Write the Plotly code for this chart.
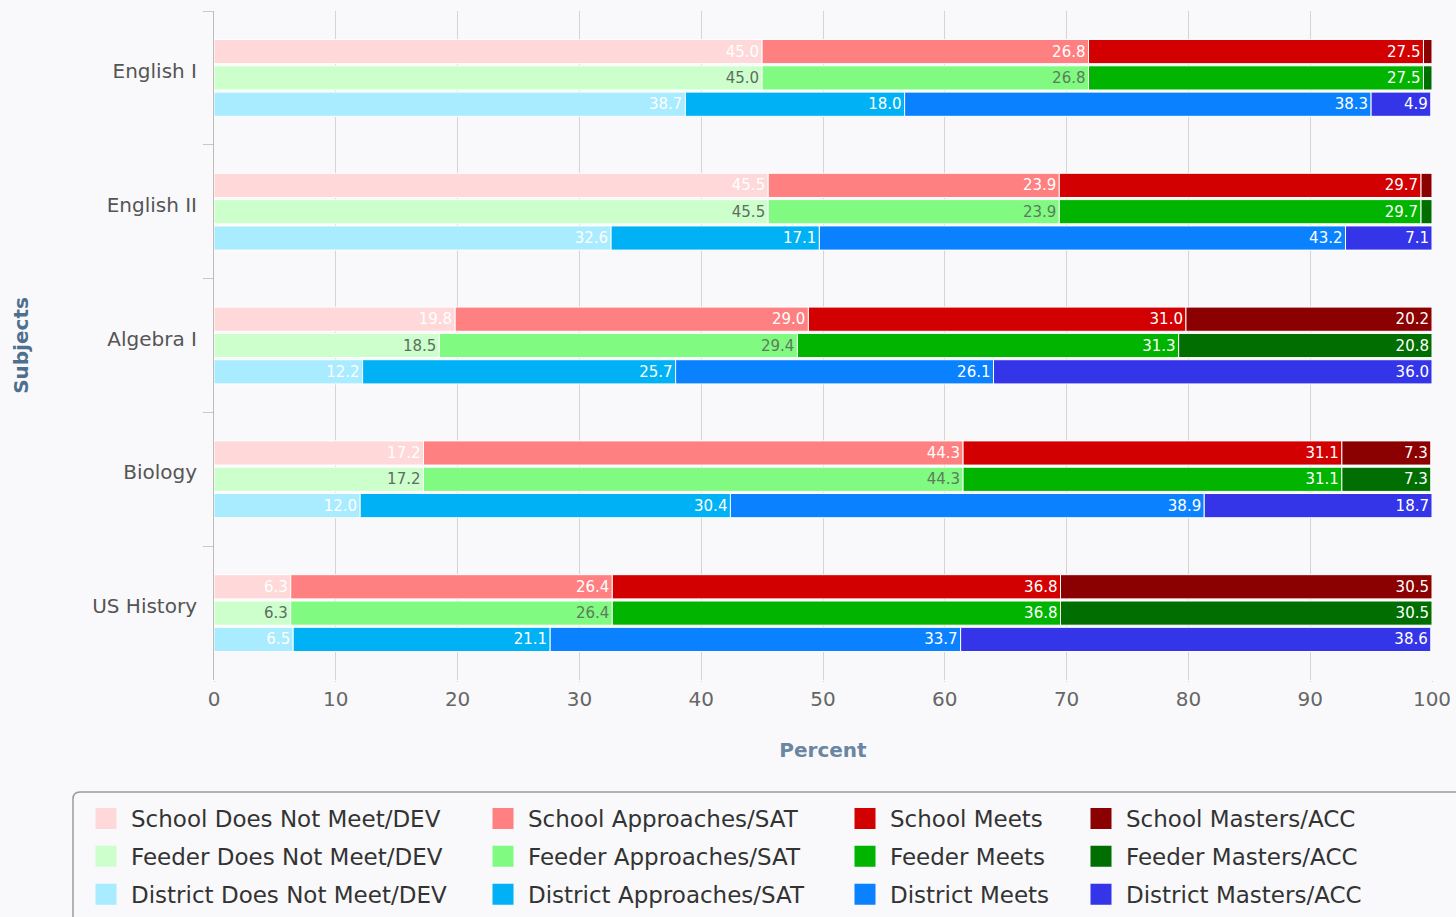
import plotly.graph_objects as go

# Subjects and STAAR performance-level percentages
subjects = ["English I", "English II", "Algebra I", "Biology", "US History"]
levels = ["Does Not Meet/DEV", "Approaches/SAT", "Meets", "Masters/ACC"]
entities = ["School", "Feeder", "District"]

school_not_meet = [45.0, 45.5, 19.8, 17.2, 6.3]
school_approaches = [26.8, 23.9, 29.0, 44.3, 26.4]
school_meets = [27.5, 29.7, 31.0, 31.1, 36.8]
school_masters = [0.7, 0.9, 20.2, 7.3, 30.5]

feeder_not_meet = [45.0, 45.5, 18.5, 17.2, 6.3]
feeder_approaches = [26.8, 23.9, 29.4, 44.3, 26.4]
feeder_meets = [27.5, 29.7, 31.3, 31.1, 36.8]
feeder_masters = [0.7, 0.9, 20.8, 7.3, 30.5]

district_not_meet = [38.7, 32.6, 12.2, 12.0, 6.5]
district_approaches = [18.0, 17.1, 25.7, 30.4, 21.1]
district_meets = [38.3, 43.2, 26.1, 38.9, 33.7]
district_masters = [4.9, 7.1, 36.0, 18.7, 38.6]

series = {
    "School": [school_not_meet, school_approaches, school_meets, school_masters],
    "Feeder": [feeder_not_meet, feeder_approaches, feeder_meets, feeder_masters],
    "District": [district_not_meet, district_approaches, district_meets, district_masters],
}

colors = {
    "School": ["#ffd9d9", "#ff8080", "#d20000", "#8b0000"],
    "Feeder": ["#ccffcc", "#80fa80", "#00b400", "#006e00"],
    "District": ["#a9ebff", "#00b2f5", "#0a82ff", "#3434e8"],
}
label_colors = {
    "School": ["#ffffff", "#ffffff", "#ffffff", "#ffffff"],
    "Feeder": ["#5e6e5e", "#5e7a5e", "#ffffff", "#ffffff"],
    "District": ["#ffffff", "#ffffff", "#ffffff", "#ffffff"],
}

FONT = "DejaVu Sans"
BG = "#f9f9fb"

fig = go.Figure()

# Stacked segments inside each subject group: one offset slot per entity
for ent in entities:
    running = [0.0] * len(subjects)
    for li, lvl in enumerate(levels):
        vals = series[ent][li]
        texts = [f"{v:.1f}" if v >= 2 else "" for v in vals]
        fig.add_trace(go.Bar(
            y=subjects, x=vals, base=list(running), orientation="h",
            offsetgroup=ent, name=f"{ent} {lvl}", legendgroup=f"{ent} {lvl}",
            showlegend=False,
            marker=dict(color=colors[ent][li], line=dict(color="#ffffff", width=1)),
            text=texts, textposition="inside", insidetextanchor="end",
            textangle=0,
            textfont=dict(family=FONT, size=15, color=label_colors[ent][li]),
            hovertemplate="%{y}<br>" + f"{ent} {lvl}" + ": %{x:.1f}%<extra></extra>",
        ))
        running = [r + v for r, v in zip(running, vals)]

# Legend entries, one column per performance level
legend_keys = ["legend", "legend2", "legend3", "legend4"]
for li, lvl in enumerate(levels):
    for ent in entities:
        c = colors[ent][li]
        fig.add_trace(go.Scatter(
            x=[None], y=[None], mode="markers", name=f"{ent} {lvl}",
            legendgroup=f"{ent} {lvl}", legend=legend_keys[li],
            marker=dict(symbol="square", size=16, color=c, line=dict(color=c, width=5)),
            hoverinfo="skip",
        ))

L, R, T, B = 214, 24, 11, 237
W, H = 1456, 917
pw, ph = W - L - R, H - T - B


def px_x(px):
    return (px - L) / pw


def px_y(py):
    return (H - B - py) / ph


legend_left = [81, 478, 840, 1076]
legend_style = dict(
    orientation="v", xanchor="left", yanchor="top", y=px_y(797),
    bgcolor="rgba(0,0,0,0)", borderwidth=0, itemwidth=40,
    traceorder="grouped", tracegroupgap=5,
    font=dict(family=FONT, size=23, color="#333333"),
)
for key, left in zip(legend_keys, legend_left):
    fig.update_layout({key: dict(legend_style, x=px_x(left))})

# Rounded legend frame running off the right and bottom edges
x0, xr = px_x(73), px_x(1475)
yt, yb = px_y(792), px_y(935)
rx, ry = 7 / pw, 7 / ph
fig.add_shape(
    type="path", xref="paper", yref="paper",
    path=f"M {x0},{yb} L {x0},{yt - ry} Q {x0},{yt} {x0 + rx},{yt} L {xr},{yt}",
    line=dict(color="#9a9a9a", width=1.5),
)

fig.update_layout(
    width=W, height=H,
    margin=dict(l=L, r=R, t=T, b=B, autoexpand=False),
    paper_bgcolor=BG, plot_bgcolor=BG,
    barmode="group", bargap=0.41, bargroupgap=0.08,
    font=dict(family=FONT, color="#555555"),
    xaxis=dict(
        range=[0, 100], dtick=10, showgrid=True, gridcolor="#d4d4d4", gridwidth=1,
        zeroline=False, showline=False,
        ticks="outside", ticklen=1, tickcolor="#d4d4d4",
        tickfont=dict(family=FONT, size=20, color="#666666"),
        title=dict(text="<b>Percent</b>", standoff=32,
                   font=dict(family=FONT, size=20, color="#6a86a2")),
        automargin=False,
    ),
    yaxis=dict(
        categoryorder="array", categoryarray=subjects, autorange="reversed",
        showline=True, linecolor="#bcbcbc", linewidth=1,
        ticks="outside", ticklen=10, tickcolor="#c8c8c8", tickson="boundaries",
        showgrid=False, ticklabelstandoff=12, ticklabelshift=7,
        tickfont=dict(family=FONT, size=20, color="#555555"),
        title=dict(text="<b>Subjects</b>", standoff=58,
                   font=dict(family=FONT, size=20, color="#4f6f8f")),
        automargin=False,
    ),
    uniformtext=dict(minsize=13, mode="hide"),
)

fig.write_html("out.html")
